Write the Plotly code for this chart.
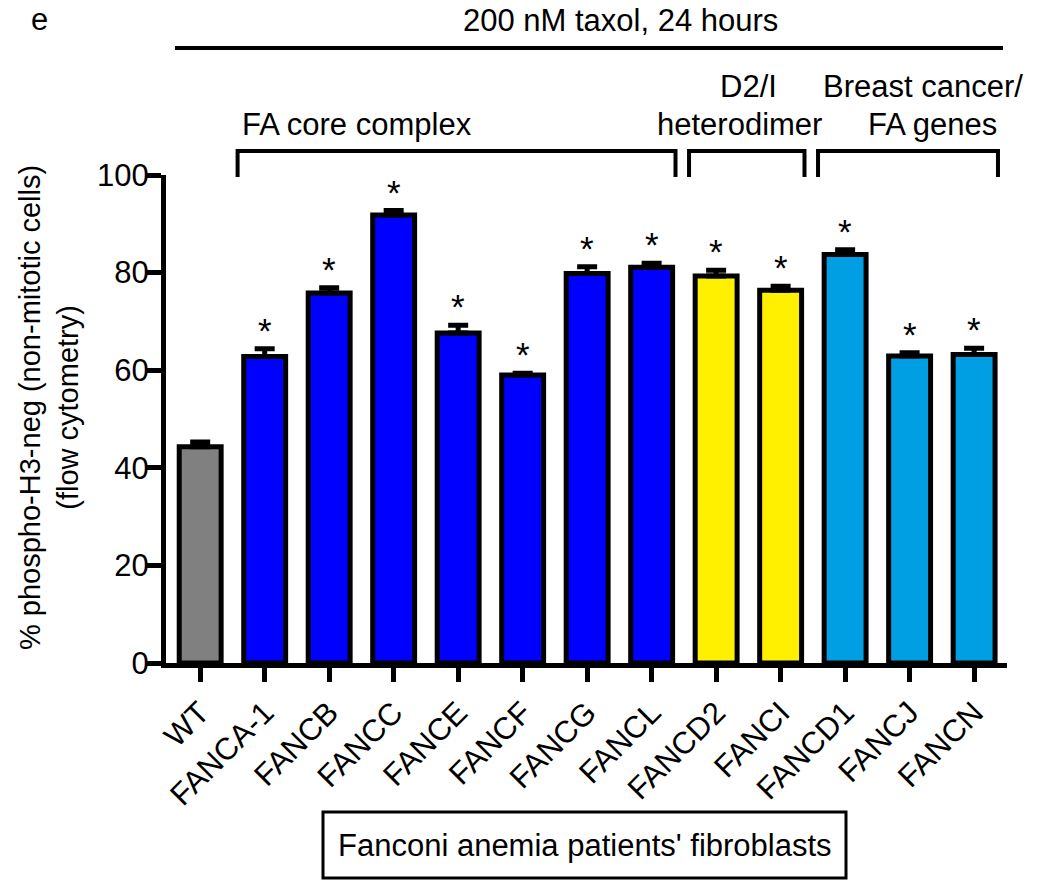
import plotly.graph_objects as go

# ---------------- data ----------------
categories = ["WT", "FANCA-1", "FANCB", "FANCC", "FANCE", "FANCF", "FANCG",
              "FANCL", "FANCD2", "FANCI", "FANCD1", "FANCJ", "FANCN"]
values = [44.3, 62.8, 75.8, 91.8, 67.6, 59.0, 79.8, 81.1, 79.3, 76.4, 83.7, 62.9, 63.2]
errors = [1.0, 1.6, 1.1, 0.9, 1.6, 0.4, 1.4, 0.8, 1.2, 0.8, 1.0, 0.7, 1.3]
significant = [False] + [True] * 12
groups = ["WT"] + ["core"] * 7 + ["d2i"] * 2 + ["bc"] * 3
group_colors = {"WT": "#808080", "core": "#0000FF", "d2i": "#FFF000", "bc": "#009FE3"}
y_ticks = [0, 20, 40, 60, 80, 100]
brackets = [  # (label lines, first index, last index)
    (["", "FA core complex"], 1, 7),
    (["D2/I", "heterodimer"], 8, 9),
    (["Breast cancer/", "FA genes"], 10, 12),
]
title_text = "200 nM taxol, 24 hours"
panel_letter = "e"
y_title = "% phospho-H3-neg (non-mitotic cells)<br>(flow cytometry)"
footer_text = "Fanconi anemia patients' fibroblasts"

# ---------------- layout geometry ----------------
W, H = 1039, 896
ML, MR, MT, MB = 166, 32, 175, 233
XMIN, XMAX = -0.53, 12.51
FONT = "Arial, 'Liberation Sans', Helvetica, sans-serif"
FS = 31

def xp_from_cat(c):
    return (c - XMIN) / (XMAX - XMIN)

def xp_from_px(px):
    return (px - ML) / (W - ML - MR)

def yp_from_px(py):
    return (H - MB - py) / (H - MT - MB)

colors = [group_colors[g] for g in groups]

fig = go.Figure()
fig.add_trace(go.Bar(
    x=list(range(len(categories))), y=values,
    width=0.65,
    marker=dict(color=colors, line=dict(color="black", width=5)),
    error_y=dict(type="data", symmetric=False, array=errors,
                 arrayminus=[0] * len(errors), color="black",
                 thickness=5, width=10),
    showlegend=False,
))

annotations = []
# significance stars
for i, (v, e, s) in enumerate(zip(values, errors, significant)):
    if s:
        annotations.append(dict(x=i, y=v + e, xref="x", yref="y", text="*",
                                showarrow=False, yanchor="bottom",
                                font=dict(size=35, color="black", family=FONT),
                                yshift=-3))

shapes = []
# top line
shapes.append(dict(type="line", xref="paper", yref="paper",
                   x0=xp_from_px(175), x1=xp_from_px(1003),
                   y0=yp_from_px(48), y1=yp_from_px(48),
                   line=dict(color="black", width=4)))
annotations.append(dict(x=xp_from_px(620), y=yp_from_px(21), xref="paper", yref="paper",
                        text=title_text, showarrow=False, xanchor="center", yanchor="middle",
                        font=dict(size=FS, color="black", family=FONT)))
annotations.append(dict(x=xp_from_px(39), y=yp_from_px(19), xref="paper", yref="paper",
                        text=panel_letter, showarrow=False, xanchor="center", yanchor="middle",
                        font=dict(size=FS, color="black", family=FONT)))

# brackets
label_centers = [(357, 357), (748, 739), (923, 932)]
for (lines, a, b), (c1, c2) in zip(brackets, label_centers):
    x0 = xp_from_cat(a - 0.42)
    x1 = xp_from_cat(b + 0.37)
    ytop = yp_from_px(151)
    ybot = yp_from_px(177)
    shapes.append(dict(type="path", xref="paper", yref="paper",
                       path=f"M {x0},{ybot} L {x0},{ytop} L {x1},{ytop} L {x1},{ybot}",
                       line=dict(color="black", width=4)))
    if lines[0]:
        annotations.append(dict(x=xp_from_px(c1), y=yp_from_px(86), xref="paper", yref="paper",
                                text=lines[0], showarrow=False, xanchor="center", yanchor="middle",
                                font=dict(size=FS, color="black", family=FONT)))
    annotations.append(dict(x=xp_from_px(c2), y=yp_from_px(125), xref="paper", yref="paper",
                            text=lines[1], showarrow=False, xanchor="center", yanchor="middle",
                            font=dict(size=FS, color="black", family=FONT)))

# y title
annotations.append(dict(x=xp_from_px(49), y=yp_from_px(408), xref="paper", yref="paper",
                        text=y_title, showarrow=False, textangle=-90,
                        xanchor="center", yanchor="middle",
                        font=dict(size=29, color="black", family=FONT)))

# footer box
shapes.append(dict(type="rect", xref="paper", yref="paper",
                   x0=xp_from_px(323), x1=xp_from_px(846),
                   y0=yp_from_px(812), y1=yp_from_px(878),
                   line=dict(color="black", width=3), fillcolor="rgba(0,0,0,0)"))
annotations.append(dict(x=xp_from_px(585), y=yp_from_px(845), xref="paper", yref="paper",
                        text=footer_text, showarrow=False, xanchor="center", yanchor="middle",
                        font=dict(size=FS, color="black", family=FONT)))

fig.update_layout(
    width=W, height=H,
    margin=dict(l=ML, r=MR, t=MT, b=MB, pad=0),
    paper_bgcolor="white", plot_bgcolor="white",
    font=dict(family=FONT, size=FS, color="black"),
    bargap=0.35,
    shapes=shapes,
    annotations=annotations,
    xaxis=dict(
        range=[XMIN, XMAX],
        tickmode="array", tickvals=list(range(len(categories))), ticktext=categories,
        tickangle=-45, ticks="outside", ticklen=14, tickwidth=5, tickcolor="black",
        showline=True, linecolor="black", linewidth=5,
        showgrid=False, zeroline=False,
        tickfont=dict(size=FS, family=FONT, color="black"),
    ),
    yaxis=dict(
        range=[0, 100], tickmode="array", tickvals=y_ticks,
        ticks="outside", ticklen=14, tickwidth=5, tickcolor="black",
        showline=True, linecolor="black", linewidth=5,
        showgrid=False, zeroline=False, ticklabelstandoff=-8,
        tickfont=dict(size=FS, family=FONT, color="black"),
    ),
)

fig.write_html("out.html")
